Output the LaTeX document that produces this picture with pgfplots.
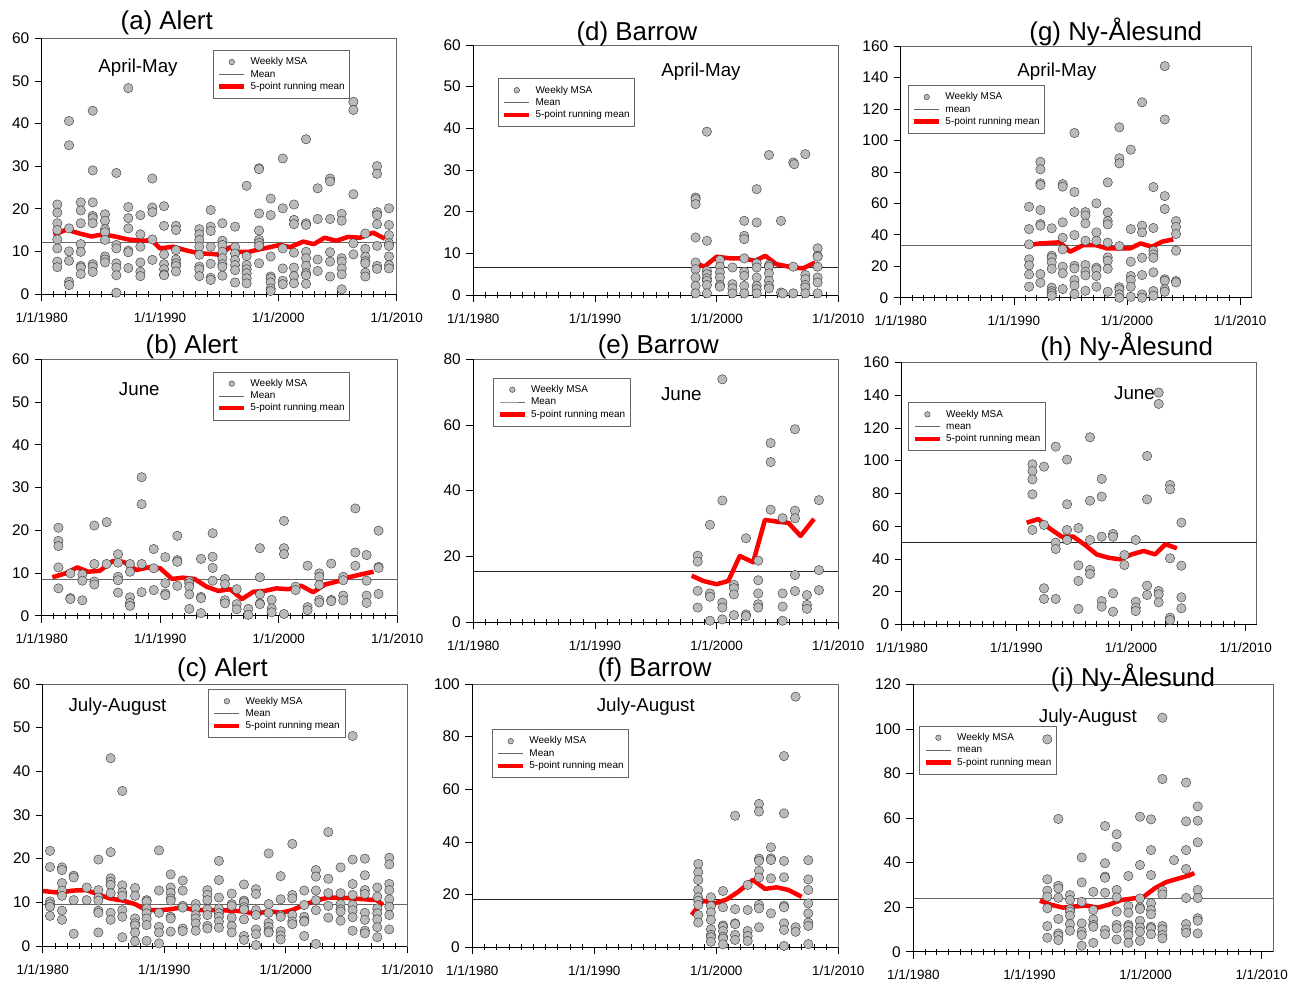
\documentclass[border=0pt]{standalone}
\usepackage{fontspec}
\setmainfont{Liberation Sans}
\usepackage{pgfplots}
\pgfplotsset{compat=1.18}
\pgfplotsset{
 msa/.style={only marks, mark=*, mark size=4.7bp, mark options={fill=black!27, draw=black!80, line width=0.4bp}},
 msaleg/.style={only marks, mark=*, mark size=2.8bp, mark options={fill=black!27, draw=black!80, line width=0.4bp}},
 meanl/.style={black!60, line width=0.7bp},
 rm/.style={red, line width=4.5bp, line join=round},
 panel/.style={scale only axis, anchor=south west, clip=false,
   xmin=1980, xmax=2010, ymin=0,
   xtick={1980,1990,2000,2010}, xticklabels={1/1/1980,1/1/1990,1/1/2000,1/1/2010},
   minor x tick num=9,
   xtick pos=left, ytick pos=left, tick align=outside,
   major tick length=7bp, minor tick length=6bp,
   minor x tick style={yshift=3bp},
   axis line style={black!60, line width=0.6bp},
   major tick style={black, line width=0.6bp},
   minor tick style={black, line width=0.5bp},
   yticklabel style={font=\fontsize{15.5}{17}\selectfont, xshift=-2bp},
   xticklabel style={font=\fontsize{13.5}{15}\selectfont, yshift=-8bp},
   /pgf/number format/assume math mode=true,
   legend cell align=left,
   legend style={anchor=north west, draw=black!60, line width=0.5bp, fill=none, font=\fontsize{10}{11}\selectfont, inner xsep=4bp, inner ysep=6bp, row sep=0.8bp, column sep=3bp, nodes={text height=7.5bp, text depth=2bp, inner sep=1bp}},
   legend image code/.code={\draw[mark repeat=2,mark phase=2,##1] plot coordinates {(0bp,0bp) (12.5bp,0bp) (25bp,0bp)};},
 },
}
\newcommand{\legs}[1]{\addlegendimage{msaleg}\addlegendentry{Weekly MSA}\addlegendimage{meanl}\addlegendentry{#1}\addlegendimage{rm}\addlegendentry{5-point running mean}}
\newcommand{\frameLB}{\draw[black, line width=0.6bp] (rel axis cs:0,1) -- (rel axis cs:0,0) -- (rel axis cs:1,0);}
\begin{document}
\begin{tikzpicture}
\useasboundingbox (0,0) rectangle (1293bp,-984bp);
% (a)
\begin{axis}[panel, at={(41.7bp,-294bp)}, width=355bp, height=255.7bp, ymax=60, ytick={0,10,...,60}, legend style={at={(axis description cs:0.482,0.954)}}]
\legs{Mean}
\addplot[meanl, forget plot] coordinates {(1980,12.1) (2010,12.1)};
\addplot[rm, forget plot] coordinates {(1981.0,13.9) (1982.1,15.1) (1983.2,14.2) (1984.2,13.5) (1985.2,14.0) (1986.2,13.5) (1987.3,12.8) (1988.3,12.5) (1989.3,12.6) (1990.0,10.7) (1991.1,11.1) (1992.25,10.2) (1993.4,9.5) (1994.4,9.4) (1995.07,9.2) (1995.9,11.0) (1996.6,9.9) (1997.5,9.9) (1998.45,10.5) (1999.3,11.0) (2000.1,11.5) (2001.0,11.0) (2002.1,12.3) (2003.0,11.7) (2003.9,13.2) (2004.9,12.5) (2005.9,13.4) (2006.9,13.2) (2008.0,14.4) (2009.0,13.0)};
\addplot[msa, forget plot] coordinates {
(1981.32,21)(1981.32,19.1)(1981.32,16.6)(1981.32,15)(1981.32,12.8)(1981.32,10.7)(1981.32,7.6)(1981.32,6.3)
(1982.31,40.6)(1982.31,34.9)(1982.31,15.4)(1982.31,10)(1982.31,7.8)(1982.31,2.9)(1982.31,2.1)
(1983.3,21.5)(1983.3,19.6)(1983.3,16.6)(1983.3,11.7)(1983.3,9.9)(1983.3,6.6)(1983.3,6.2)(1983.3,4.7)
(1984.31,43)(1984.31,29)(1984.31,21.5)(1984.31,18.3)(1984.31,17.8)(1984.31,16.6)(1984.31,7)(1984.31,6.4)(1984.31,5.2)
(1985.35,18.7)(1985.35,17.2)(1985.35,15.2)(1985.35,14.5)(1985.35,12.7)(1985.35,8.8)(1985.35,8.1)(1985.35,7.4)
(1986.31,28.4)(1986.31,11.5)(1986.31,10.7)(1986.31,7.2)(1986.31,6.2)(1986.31,4.4)(1986.31,0.3)
(1987.32,48.3)(1987.32,20.4)(1987.32,17.8)(1987.32,15.4)(1987.32,10.2)(1987.32,9.8)(1987.32,6.1)
(1988.34,18.5)(1988.34,14)(1988.34,11.1)(1988.34,7.4)(1988.34,5.2)(1988.34,4.2)
(1989.35,27.1)(1989.35,20.3)(1989.35,19.2)(1989.35,12.8)(1989.35,8)
(1990.34,20.6)(1990.34,16)(1990.34,9.3)(1990.34,7)(1990.34,5.8)(1990.34,4.6)(1990.34,4.4)
(1991.35,16)(1991.35,15)(1991.35,10.3)(1991.35,8.1)(1991.35,7.2)(1991.35,6.6)(1991.35,5.3)
(1993.32,15.2)(1993.32,14)(1993.32,12.7)(1993.32,11.1)(1993.32,9.2)(1993.32,6.4)(1993.32,5.8)(1993.32,4.2)
(1994.28,19.7)(1994.28,15.8)(1994.28,14.8)(1994.28,11.1)(1994.28,7.1)(1994.28,3.8)(1994.28,3.3)
(1995.27,16.6)(1995.27,12.5)(1995.27,11.5)(1995.27,9.9)(1995.27,8.4)(1995.27,7)(1995.27,6.4)(1995.27,4.3)
(1996.34,15.8)(1996.34,11)(1996.34,9.5)(1996.34,8)(1996.34,6.8)(1996.34,5.6)(1996.34,2.7)
(1997.32,25.4)(1997.32,8.9)(1997.32,6.8)(1997.32,5.8)(1997.32,4.9)(1997.32,3.7)(1997.32,2.5)
(1998.37,29.5)(1998.37,29.3)(1998.37,18.9)(1998.37,14.9)(1998.37,12.7)(1998.37,12)(1998.37,11.3)(1998.37,7.2)
(1999.35,22.4)(1999.35,18.5)(1999.35,8.8)(1999.35,4.1)(1999.35,3.7)(1999.35,2.7)(1999.35,1.3)(1999.35,0.7)
(2000.37,31.8)(2000.37,20.1)(2000.37,10.7)(2000.37,6)(2000.37,3.1)(2000.37,2.3)
(2001.32,21)(2001.32,17.4)(2001.32,16.4)(2001.32,9.7)(2001.32,6.2)(2001.32,4.2)(2001.32,2.5)
(2002.34,36.3)(2002.34,16.6)(2002.34,16.2)(2002.34,9.9)(2002.34,8.4)(2002.34,6.6)(2002.34,4.9)(2002.34,4.4)(2002.34,2.4)
(2003.32,24.8)(2003.32,17.6)(2003.32,8.1)(2003.32,5.4)
(2004.37,27.1)(2004.37,26.4)(2004.37,17.6)(2004.37,9.8)(2004.37,7.6)(2004.37,4.1)
(2005.35,18.8)(2005.35,17.2)(2005.35,8.4)(2005.35,7.6)(2005.35,6)(2005.35,4.6)(2005.35,1.1)
(2006.34,45.1)(2006.34,43.2)(2006.34,23.4)(2006.34,11.9)(2006.34,9.3)
(2007.35,14.2)(2007.35,10.6)(2007.35,8.8)(2007.35,7.7)(2007.35,7.2)(2007.35,5)(2007.35,4.1)
(2008.34,30)(2008.34,28.2)(2008.34,19.2)(2008.34,18.5)(2008.34,16.4)(2008.34,11.3)(2008.34,6.6)(2008.34,5.9)
(2009.35,20.1)(2009.35,16.2)(2009.35,13.8)(2009.35,11.9)(2009.35,11.3)(2009.35,8.8)(2009.35,6.8)(2009.35,6)};
\frameLB
\end{axis}
% (b)
\begin{axis}[panel, at={(41.7bp,-615.7bp)}, width=355.6bp, height=256.4bp, ymax=60, ytick={0,10,...,60}, legend style={at={(axis description cs:0.481,0.952)}}]
\legs{Mean}
\addplot[meanl, forget plot] coordinates {(1980,8.5) (2010,8.5)};
\addplot[rm, forget plot] coordinates {(1980.9,9.0) (1982.0,9.9) (1983.0,11.3) (1983.9,10.3) (1984.9,10.5) (1986.0,12.8) (1986.9,12.6) (1988.0,10.7) (1989.0,11.3) (1990.0,11.1) (1991.0,8.6) (1991.9,8.9) (1992.9,8.6) (1993.9,6.8) (1994.9,5.8) (1995.9,6.2) (1996.9,3.9) (1997.85,5.6) (1998.8,5.8) (1999.8,6.4) (2000.8,6.2) (2001.9,7.0) (2002.9,5.5) (2003.9,7.3) (2004.9,8.0) (2005.9,9.0) (2007.0,9.7) (2008.0,10.3)};
\addplot[msa, forget plot] coordinates {
(1981.41,20.6)(1981.41,17.5)(1981.41,16.3)(1981.41,11.3)(1981.41,6.4)
(1982.42,9.9)(1982.42,4.1)(1982.42,3.9)
(1983.43,9.7)(1983.43,8.2)(1983.43,3.6)
(1984.44,21.1)(1984.44,12.1)(1984.44,8)(1984.44,7.3)
(1985.48,21.9)(1985.48,12.1)
(1986.44,14.4)(1986.44,12.4)(1986.44,9.1)(1986.44,8.3)(1986.44,5.4)
(1987.45,12.1)(1987.45,10.3)(1987.45,4.3)(1987.45,3)(1987.45,2.3)
(1988.43,32.4)(1988.43,26.1)(1988.43,12.1)(1988.43,5.5)
(1989.45,15.6)(1989.45,11.1)(1989.45,6)
(1990.43,13.7)(1990.43,7.6)(1990.43,5.2)(1990.43,4.8)
(1991.44,18.7)(1991.44,13)(1991.44,12.6)(1991.44,7)
(1992.45,8.1)(1992.45,7.6)(1992.45,6.8)(1992.45,5)(1992.45,1.6)
(1993.44,13.3)(1993.44,4.4)(1993.44,4.1)(1993.44,0.6)
(1994.42,19.3)(1994.42,13.8)(1994.42,11.2)(1994.42,8.2)
(1995.46,8.6)(1995.46,7.4)(1995.46,3.6)(1995.46,2.9)
(1996.45,6.2)(1996.45,2.7)(1996.45,1.5)
(1997.43,1.6)(1997.43,0.2)
(1998.41,15.8)(1998.41,9)(1998.41,5)(1998.41,2.9)(1998.41,2.7)
(1999.4,3.7)(1999.4,1.7)(1999.4,0.8)
(2000.44,22.2)(2000.44,15.8)(2000.44,14.4)(2000.44,0.4)
(2001.42,6.8)(2001.42,6)
(2002.43,11.7)(2002.43,2)(2002.43,1.3)
(2003.42,9.9)(2003.42,9.1)(2003.42,7.2)(2003.42,3.7)(2003.42,3.1)
(2004.43,12.2)(2004.43,3.7)(2004.43,3.4)
(2005.44,9.1)(2005.44,8.3)(2005.44,4.7)(2005.44,3.6)
(2006.46,25.1)(2006.46,14.8)(2006.46,11.7)
(2007.41,14.2)(2007.41,8.2)(2007.41,4.7)(2007.41,3)
(2008.42,19.9)(2008.42,11.4)(2008.42,11.2)(2008.42,5.1)};
\frameLB
\end{axis}
% (c)
\begin{axis}[panel, at={(42.7bp,-946bp)}, width=364.6bp, height=262bp, ymax=60, ytick={0,10,...,60}, legend style={at={(axis description cs:0.453,0.980)}}]
\legs{Mean}
\addplot[meanl, forget plot] coordinates {(1980,9.5) (2010,9.5)};
\addplot[rm, forget plot] coordinates {(1980,12.6) (1981.4,12.2) (1982.5,12.7) (1983.6,12.8) (1984.6,11.8) (1985.5,10.9) (1986.6,10.4) (1987.6,9.6) (1988.55,8.2) (1989.5,8.2) (1990.5,8.4) (1991.5,8.9) (1992.5,8.2) (1993.5,8.2) (1994.5,8.2) (1995.55,8.1) (1996.6,7.9) (1997.5,7.3) (1998.6,8.0) (1999.6,7.6) (2000.5,8.2) (2001.5,9.4) (2002.5,10.4) (2003.5,11.1) (2004.5,11.1) (2005.5,10.9) (2006.5,10.7) (2007.5,10.5) (2008.0,9.4)};
\addplot[msa, forget plot] coordinates {
(1980.6,21.8)(1980.6,18.1)(1980.6,10.2)(1980.6,9.6)(1980.6,9)(1980.6,6.9)
(1981.59,18)(1981.59,17.4)(1981.59,14.4)(1981.59,12.7)(1981.59,11.5)(1981.59,8.1)(1981.59,6)
(1982.55,16.1)(1982.55,15.7)(1982.55,10.5)(1982.55,2.8)
(1983.62,13.4)(1983.62,10.5)
(1984.58,19.8)(1984.58,12.8)(1984.58,11.1)(1984.58,10.4)(1984.58,8.1)(1984.58,7.6)(1984.58,3.1)
(1985.59,43)(1985.59,21.5)(1985.59,15.5)(1985.59,14.7)(1985.59,14)(1985.59,12.1)(1985.59,7.6)(1985.59,6)
(1986.55,35.5)(1986.55,13.9)(1986.55,12.3)(1986.55,11.5)(1986.55,8.2)(1986.55,6.7)(1986.55,2)
(1987.6,13.3)(1987.6,11.5)(1987.6,6.3)(1987.6,5.2)(1987.6,4.7)(1987.6,3.1)(1987.6,1.1)
(1988.55,10.5)(1988.55,10.2)(1988.55,8.6)(1988.55,7.5)(1988.55,6.3)(1988.55,4.8)(1988.55,1.2)
(1989.57,21.9)(1989.57,12.7)(1989.57,7.6)(1989.57,4.4)(1989.57,3.1)(1989.57,0.6)
(1990.53,16.4)(1990.53,13.4)(1990.53,12.2)(1990.53,10.9)(1990.53,10.4)(1990.53,6.7)(1990.53,6.3)(1990.53,3.3)
(1991.52,15)(1991.52,12.7)(1991.52,9.2)(1991.52,8.8)(1991.52,4)(1991.52,3.4)
(1992.59,9.6)(1992.59,8.6)(1992.59,7.1)(1992.59,6.3)(1992.59,5.2)(1992.59,3.5)
(1993.55,12.8)(1993.55,11.7)(1993.55,10.5)(1993.55,8.4)(1993.55,7.1)(1993.55,4.6)(1993.55,4)
(1994.5,19.5)(1994.5,15.1)(1994.5,11.1)(1994.5,8.6)(1994.5,7.5)(1994.5,6.7)(1994.5,5.6)(1994.5,4.2)
(1995.55,12)(1995.55,9.6)(1995.55,9.2)(1995.55,6.5)(1995.55,4.6)(1995.55,3.1)
(1996.56,14.1)(1996.56,10.4)(1996.56,10)(1996.56,8.9)(1996.56,8.4)(1996.56,6.1)(1996.56,2.3)(1996.56,1.4)
(1997.55,13)(1997.55,11.9)(1997.55,8.2)(1997.55,7.1)(1997.55,3.8)(1997.55,2.7)(1997.55,0.2)
(1998.59,21.2)(1998.59,9.6)(1998.59,7.6)(1998.59,5.3)(1998.59,4.4)(1998.59,3.4)(1998.59,3.1)
(1999.58,16)(1999.58,10.7)(1999.58,7)(1999.58,6.7)(1999.58,3.4)(1999.58,2.4)(1999.58,1.5)
(2000.54,23.4)(2000.54,11.7)(2000.54,10.9)(2000.54,7.1)(2000.54,5.6)(2000.54,5)
(2001.52,12.7)(2001.52,9.4)(2001.52,6.7)(2001.52,5.8)(2001.52,5.6)(2001.52,2.3)
(2002.48,17.4)(2002.48,15.9)(2002.48,12.7)(2002.48,10.5)(2002.48,8.2)(2002.48,0.5)
(2003.5,26.1)(2003.5,15.4)(2003.5,12.1)(2003.5,9.2)(2003.5,6.5)
(2004.51,18)(2004.51,12.1)(2004.51,9.6)(2004.51,8.4)(2004.51,7.9)(2004.51,5.8)
(2005.5,48.1)(2005.5,19.8)(2005.5,14.2)(2005.5,11.7)(2005.5,9.4)(2005.5,8.2)(2005.5,6.6)(2005.5,3.5)
(2006.51,20)(2006.51,16.2)(2006.51,12.8)(2006.51,11.9)(2006.51,7.6)(2006.51,6)(2006.51,3.5)(2006.51,2.9)
(2007.53,13.4)(2007.53,11.3)(2007.53,8.6)(2007.53,7.5)(2007.53,6.1)(2007.53,4.3)(2007.53,2)
(2008.52,20.2)(2008.52,18.7)(2008.52,14.2)(2008.52,12.8)(2008.52,10.7)(2008.52,9)(2008.52,7.1)(2008.52,3.8)};
\frameLB
\end{axis}
% (d)
\begin{axis}[panel, at={(473.3bp,-295bp)}, width=365bp, height=250bp, ymax=60, ytick={0,10,...,60}, legend style={at={(axis description cs:0.067,0.867)}}]
\legs{Mean}
\addplot[meanl, black!85, forget plot] coordinates {(1980,6.6) (2010,6.6)};
\addplot[rm, forget plot] coordinates {(1997.95,8.0) (1999.0,6.8) (2000.0,9.2) (2001.1,8.8) (2002.2,8.8) (2003.15,8.2) (2004.0,9.4) (2004.9,7.4) (2006.3,6.6) (2007.1,6.4) (2008.1,7.8)};
\addplot[msa, forget plot] coordinates {
(1998.27,23.4)(1998.27,23)(1998.27,21.8)(1998.27,13.8)(1998.27,7.8)(1998.27,6.2)(1998.27,4.2)(1998.27,2.2)(1998.27,0.4)
(1999.2,39.2)(1999.2,13)(1999.2,5.8)(1999.2,5)(1999.2,4)(1999.2,3.4)(1999.2,2.4)(1999.2,0.4)
(2000.27,8.4)(2000.27,6.8)(2000.27,5.4)(2000.27,4.2)(2000.27,2.4)(2000.27,2)
(2001.3,6.6)(2001.3,2.6)(2001.3,1.6)(2001.3,0.4)
(2002.27,17.8)(2002.27,14.2)(2002.27,13.4)(2002.27,8.8)(2002.27,5.6)(2002.27,4.6)(2002.27,2.2)(2002.27,0.4)
(2003.29,25.4)(2003.29,17.4)(2003.29,7.6)(2003.29,6.6)(2003.29,4.2)(2003.29,2.2)(2003.29,1.4)(2003.29,0.4)
(2004.3,33.6)(2004.3,7.2)(2004.3,6.8)(2004.3,5.2)(2004.3,3.4)(2004.3,2.2)(2004.3,1.6)
(2005.29,17.8)(2005.29,0.6)(2005.45,0.4)
(2006.3,31.8)(2006.38,31.4)(2006.3,6.8)(2006.3,0.4)
(2007.29,33.8)(2007.29,4.8)(2007.29,3.8)(2007.29,2.4)(2007.29,1.8)(2007.29,0.4)
(2008.3,11.2)(2008.3,9.4)(2008.3,9.2)(2008.3,6.8)(2008.3,4.2)(2008.3,3)(2008.3,0.4)};
\frameLB
\end{axis}
% (e)
\begin{axis}[panel, at={(473.3bp,-622bp)}, width=365bp, height=262.7bp, ymax=80, ytick={0,20,...,80}, legend style={at={(axis description cs:0.055,0.930)}}]
\legs{Mean}
\addplot[meanl, black!85, forget plot] coordinates {(1980,15.5) (2010,15.5)};
\addplot[rm, forget plot] coordinates {(1997.95,14.1) (1998.9,12.5) (2000.0,11.5) (2000.96,12.5) (2001.9,20.1) (2003.0,18.2) (2003.97,31.1) (2004.9,30.6) (2005.9,30.2) (2006.9,26.2) (2008.0,31.4)};
\addplot[msa, forget plot] coordinates {
(1998.44,20.2)(1998.44,18.4)(1998.44,9.5)(1998.44,4.4)
(1999.45,29.6)(1999.45,8.7)(1999.45,7.7)(1999.45,0.4)
(2000.47,73.9)(2000.47,37)(2000.47,5.9)(2000.47,4.4)(2000.47,0.8)
(2001.42,11.3)(2001.42,10.3)(2001.42,8.4)(2001.42,2.1)
(2002.41,25.5)(2002.41,2.3)(2002.41,1.8)
(2003.42,18.7)(2003.42,12.7)(2003.42,8.7)(2003.42,5.4)(2003.42,4.4)
(2004.44,54.5)(2004.44,48.7)(2004.44,34.2)
(2005.42,31.6)(2005.42,8.7)(2005.42,4.7)(2005.42,0.4)
(2006.44,58.7)(2006.44,33.9)(2006.44,31.6)(2006.44,14.3)(2006.44,9.4)
(2007.42,8.2)(2007.42,5.2)(2007.42,4)
(2008.41,37.1)(2008.41,15.8)(2008.41,9.7)};
\frameLB
\end{axis}
% (f)
\begin{axis}[panel, at={(472.3bp,-947bp)}, width=366bp, height=263bp, ymax=100, ytick={0,20,...,100}, legend style={at={(axis description cs:0.053,0.828)}}]
\legs{Mean}
\addplot[meanl, black!85, forget plot] coordinates {(1980,18.2) (2010,18.2)};
\addplot[rm, forget plot] coordinates {(1997.98,12.2) (1998.9,17.6) (1999.9,16.6) (2000.85,18.1) (2001.8,21.0) (2003.0,25.5) (2004.0,22.1) (2004.95,22.7) (2005.9,21.7) (2007.0,19.1)};
\addplot[msa, forget plot] coordinates {
(1998.52,31.6)(1998.52,28.4)(1998.52,25.5)(1998.52,21.7)(1998.52,18.9)(1998.52,17.6)(1998.52,16)(1998.52,12.2)(1998.52,9.3)
(1999.56,18.9)(1999.56,15.6)(1999.56,13.2)(1999.56,10.3)(1999.56,6.7)(1999.56,4.6)(1999.56,3.7)(1999.56,2)
(2000.55,21.3)(2000.55,15.1)(2000.55,8.2)(2000.55,7.7)(2000.55,6.1)(2000.55,3.9)(2000.55,3.2)(2000.55,1)
(2001.54,49.9)(2001.54,14.4)(2001.54,9)(2001.54,8.7)(2001.54,4.6)(2001.54,2.7)
(2002.57,23.6)(2002.57,14.1)(2002.57,6.1)(2002.57,4.2)(2002.57,2.3)
(2003.5,54.4)(2003.5,51.5)(2003.5,33.6)(2003.5,32.8)(2003.5,29)(2003.5,26.4)(2003.5,16)(2003.5,14.7)(2003.5,7.5)
(2004.48,37.9)(2004.48,33.7)(2004.48,33.1)(2004.48,26.1)(2004.48,12.8)
(2005.55,72.6)(2005.55,50.8)(2005.55,32.7)(2005.55,26.5)(2005.55,15.7)(2005.55,15.1)(2005.55,9)(2005.55,6.5)(2005.55,0.4)
(2006.5,95.2)(2006.5,7.5)(2006.5,5.8)
(2007.54,33)(2007.54,25.7)(2007.54,21.7)(2007.54,16.6)(2007.54,12.8)(2007.54,9.3)(2007.54,8)(2007.54,1.1)};
\frameLB
\end{axis}
% (g)
\begin{axis}[panel, at={(900.7bp,-297.7bp)}, width=351bp, height=251.7bp, xmax=2011.03, ymax=160, ytick={0,20,...,160}, legend style={at={(axis description cs:0.020,0.845)}}]
\legs{mean}
\addplot[meanl, forget plot] coordinates {(1980,33.5) (2011.03,33.5)};
\addplot[rm, forget plot] coordinates {(1991.0,33.1) (1992.3,34.5) (1994.1,35.2) (1994.97,29.2) (1996.15,33.5) (1997.2,33.5) (1998.2,31.4) (1999.4,31.4) (2000.3,31.4) (2001.2,34.5) (2002.2,32.4) (2003.1,35.6) (2004.1,37.1)};
\addplot[msa, forget plot] coordinates {
(1991.35,57.8)(1991.35,43.6)(1991.35,33.9)(1991.35,24.4)(1991.35,20.6)(1991.35,14.8)(1991.35,7)
(1992.35,86.4)(1992.35,81.6)(1992.35,72.7)(1992.35,71.6)(1992.35,55.7)(1992.35,46.8)(1992.35,45.8)(1992.35,15)(1992.35,9.5)
(1993.35,44.1)(1993.35,26.7)(1993.35,25.4)(1993.35,22.5)(1993.35,18.4)(1993.35,6.4)(1993.35,4.2)(1993.35,2.8)(1993.35,1.3)
(1994.32,72.2)(1994.32,70.6)(1994.32,47.9)(1994.32,38.1)(1994.32,30.7)(1994.32,19.7)(1994.32,15.5)(1994.32,5.5)
(1995.36,104.7)(1995.36,67.2)(1995.36,54.4)(1995.36,39.8)(1995.36,20.3)(1995.36,18.6)(1995.36,11.2)(1995.36,7.8)(1995.36,2.3)
(1996.33,54.4)(1996.33,52.3)(1996.33,47.2)(1996.33,36.2)(1996.33,20.8)(1996.33,16.5)(1996.33,14.2)(1996.33,4.4)
(1997.3,60)(1997.3,41.5)(1997.3,36.2)(1997.3,19.1)(1997.3,18)(1997.3,13.8)(1997.3,7)
(1998.3,73.3)(1998.3,54.2)(1998.3,48.7)(1998.3,46.6)(1998.3,35)(1998.3,25.6)(1998.3,23.5)(1998.3,18.4)(1998.3,3.8)
(1999.33,108.3)(1999.33,88.6)(1999.33,85.4)(1999.33,32.8)(1999.33,6.6)(1999.33,5.3)(1999.33,2.1)(1999.33,0)
(2000.34,94.1)(2000.34,43.6)(2000.34,22.9)(2000.34,13.8)(2000.34,11.2)(2000.34,7)(2000.34,0.6)
(2001.34,124.2)(2001.34,45.8)(2001.34,41.5)(2001.34,25.4)(2001.34,14.4)(2001.34,2.1)(2001.34,0)
(2002.34,70.3)(2002.34,44.3)(2002.34,29.9)(2002.34,27.5)(2002.34,25.4)(2002.34,16.1)(2002.34,4.2)(2002.34,1.3)
(2003.34,147.2)(2003.34,113.3)(2003.34,64.6)(2003.34,56.4)(2003.34,11.7)(2003.34,10.8)(2003.34,5.3)(2003.34,3.8)
(2004.34,48.7)(2004.34,45.1)(2004.34,40.5)(2004.34,29.9)(2004.34,10.6)(2004.34,9.7)};
\frameLB
\end{axis}
% (h)
\begin{axis}[panel, at={(901.7bp,-624.3bp)}, width=355bp, height=262bp, xmax=2010.96, ymax=160, ytick={0,20,...,160}, legend style={at={(axis description cs:0.019,0.847)}}]
\legs{mean}
\addplot[meanl, black!85, forget plot] coordinates {(1980,50.1) (2010.96,50.1)};
\addplot[rm, forget plot] coordinates {(1990.9,62.0) (1991.9,64.3) (1992.9,58.6) (1993.95,53.5) (1994.97,53.5) (1996.0,48.4) (1997.0,42.7) (1998.0,40.7) (1999.0,39.7) (2000.06,42.7) (2001.1,44.8) (2002.1,42.7) (2003.0,48.9) (2004.0,46.4)};
\addplot[msa, forget plot] coordinates {
(1991.4,97.7)(1991.4,93.6)(1991.4,88.5)(1991.4,79.4)(1991.4,57.6)
(1992.41,96.3)(1992.41,60.7)(1992.41,22)(1992.41,15.5)
(1993.43,108.5)(1993.43,49.9)(1993.43,46)(1993.43,15.5)
(1994.42,100.6)(1994.42,73.3)(1994.42,57.6)(1994.42,51.5)
(1995.41,58.8)(1995.41,36)(1995.41,26.5)(1995.41,9.4)
(1996.42,114.2)(1996.42,75.5)(1996.42,51.5)(1996.42,33.2)(1996.42,30.7)
(1997.44,88.8)(1997.44,78)(1997.44,53.5)(1997.44,14.2)(1997.44,10.8)
(1998.43,55.2)(1998.43,53.5)(1998.43,18.9)(1998.43,7.7)
(1999.42,42.3)(1999.42,36.2)
(2000.41,51.5)(2000.41,13.8)(2000.41,10.2)(2000.41,8.1)
(2001.4,102.8)(2001.4,76.3)(2001.4,23.6)(2001.4,17.9)
(2002.41,141.5)(2002.41,134.6)(2002.41,20.4)(2002.41,18.3)(2002.41,13.4)
(2003.4,85.1)(2003.4,82.4)(2003.4,40.3)(2003.4,4.1)(2003.4,2.6)
(2004.39,62.1)(2004.39,35.8)(2004.39,16.5)(2004.39,9.8)};
\frameLB
\end{axis}
% (i)
\begin{axis}[panel, at={(913.3bp,-951.7bp)}, width=360bp, height=267.4bp, xmax=2011.0, ymax=120, ytick={0,20,...,120}, legend style={at={(axis description cs:0.017,0.845)}}]
\legs{mean}
\addplot[meanl, forget plot] coordinates {(1980,23.9) (2011.0,23.9)};
\addplot[rm, forget plot] coordinates {(1990.9,22.9) (1991.9,21.0) (1992.9,19.8) (1993.9,20.3) (1994.9,20.7) (1995.9,19.8) (1996.9,21.2) (1997.9,23.2) (1998.9,23.9) (1999.8,24.5) (2000.8,28.5) (2001.8,31.3) (2002.8,32.8) (2003.8,34.3) (2004.2,35.3)};
\addplot[msa, forget plot] coordinates {
(1991.54,95.3)(1991.54,32.5)(1991.54,27.4)(1991.54,24.7)(1991.54,19.5)(1991.54,11.5)(1991.54,6.3)
(1992.49,59.6)(1992.49,29.6)(1992.49,28.4)(1992.49,24.2)(1992.49,14.7)(1992.49,8.2)(1992.49,7.2)(1992.49,5.2)
(1993.49,25.4)(1993.49,23.2)(1993.49,19)(1993.49,18)(1993.49,16.2)(1993.49,12.4)(1993.49,9.4)
(1994.5,42.3)(1994.5,31.1)(1994.5,22.4)(1994.5,12.7)(1994.5,9)(1994.5,7.5)(1994.5,2.7)
(1995.5,26.9)(1995.5,18.7)(1995.5,14.5)(1995.5,12)(1995.5,11.2)(1995.5,4)
(1996.51,56.4)(1996.51,39.7)(1996.51,33.7)(1996.51,33.2)(1996.51,26.5)(1996.51,9.7)(1996.51,7.8)
(1997.51,52.7)(1997.51,47.1)(1997.51,27.7)(1997.51,24.4)(1997.51,18)(1997.51,12)(1997.51,10.5)(1997.51,5.5)
(1998.52,34)(1998.52,20.5)(1998.52,17.5)(1998.52,12)(1998.52,11.2)(1998.52,9.3)(1998.52,7.5)(1998.52,4)
(1999.52,60.6)(1999.52,38.9)(1999.52,23.9)(1999.52,19.9)(1999.52,19.2)(1999.52,13.9)(1999.52,10.9)(1999.52,9)(1999.52,4.9)
(2000.47,59.4)(2000.47,45.6)(2000.47,34.4)(2000.47,21.7)(2000.47,18.7)(2000.47,16.8)(2000.47,11.2)(2000.47,10.5)(2000.47,7.8)
(2001.45,105)(2001.45,77.5)(2001.45,27.4)(2001.45,25.7)(2001.45,11.5)(2001.45,10)(2001.45,7.5)(2001.45,6)
(2002.45,41.1)
(2003.49,75.9)(2003.49,58.5)(2003.49,45.6)(2003.49,37.1)(2003.49,24.1)(2003.49,12.4)(2003.49,10)(2003.49,8.5)
(2004.49,65.2)(2004.49,58.8)(2004.49,49.1)(2004.49,27.7)(2004.49,24.1)(2004.49,15)(2004.49,13.9)(2004.49,8.2)};
\frameLB
\end{axis}
% titles
\begin{scope}[every node/.style={anchor=base, inner sep=0pt}]
\node[font=\fontsize{26}{28}\selectfont] at (166.7bp,-29.3bp) {(a) Alert};
\node[font=\fontsize{26}{28}\selectfont] at (191.7bp,-353.3bp) {(b) Alert};
\node[font=\fontsize{26}{28}\selectfont] at (222.5bp,-676.7bp) {(c) Alert};
\node[font=\fontsize{26}{28}\selectfont] at (637bp,-40bp) {(d) Barrow};
\node[font=\fontsize{26}{28}\selectfont] at (658.3bp,-353.3bp) {(e) Barrow};
\node[font=\fontsize{26}{28}\selectfont] at (654.7bp,-676.7bp) {(f) Barrow};
\node[font=\fontsize{26}{28}\selectfont] at (1115.8bp,-40bp) {(g) Ny-Ålesund};
\node[font=\fontsize{26}{28}\selectfont] at (1126.7bp,-355.7bp) {(h) Ny-Ålesund};
\node[font=\fontsize{26}{28}\selectfont] at (1133bp,-686.7bp) {(i) Ny-Ålesund};
\node[font=\fontsize{18.8}{20}\selectfont] at (138bp,-72.7bp) {April-May};
\node[font=\fontsize{18.8}{20}\selectfont] at (139.3bp,-395bp) {June};
\node[font=\fontsize{18.8}{20}\selectfont] at (117.5bp,-711.7bp) {July-August};
\node[font=\fontsize{18.8}{20}\selectfont] at (701bp,-76bp) {April-May};
\node[font=\fontsize{18.8}{20}\selectfont] at (681.3bp,-400bp) {June};
\node[font=\fontsize{18.8}{20}\selectfont] at (645.8bp,-711.7bp) {July-August};
\node[font=\fontsize{18.8}{20}\selectfont] at (1057bp,-76bp) {April-May};
\node[font=\fontsize{18.8}{20}\selectfont] at (1134.5bp,-399bp) {June};
\node[font=\fontsize{18.8}{20}\selectfont] at (1087.8bp,-722.7bp) {July-August};
\end{scope}
\end{tikzpicture}
\end{document}
